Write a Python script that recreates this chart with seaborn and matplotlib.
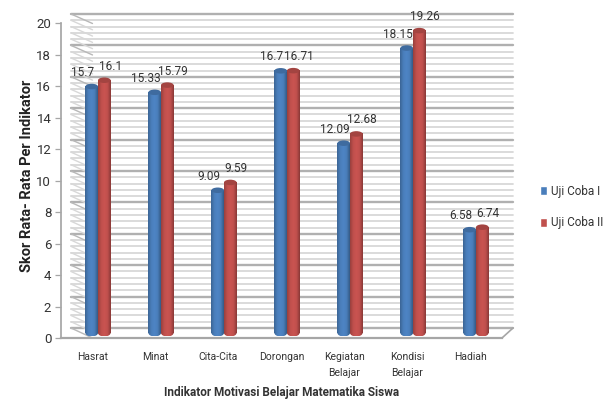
import numpy as np
import pandas as pd
import matplotlib
matplotlib.use('Agg')
import matplotlib.pyplot as plt
from matplotlib.colors import LinearSegmentedColormap
from matplotlib.patches import ConnectionPatch, Ellipse
import seaborn as sns

categories = ['Hasrat', 'Minat', 'Cita-Cita', 'Dorongan', 'Kegiatan\nBelajar', 'Kondisi\nBelajar', 'Hadiah']
uji_coba_1 = [15.7, 15.33, 9.09, 16.7, 12.09, 18.15, 6.58]
uji_coba_2 = [16.1, 15.79, 9.59, 16.71, 12.68, 19.26, 6.74]
series_names = ['Uji Coba I', 'Uji Coba II']
y_ticks = [0, 2, 4, 6, 8, 10, 12, 14, 16, 18, 20]
y_label = 'Skor Rata- Rata Per Indikator'
x_label = 'Indikator Motivasi Belajar Matematika Siswa'

sns.set_theme(style='white')
plt.rcParams['font.family'] = ['Roboto', 'DejaVu Sans']
W, H = 606, 399
GRAY = '#a6a6a6'
TEXT = '#333333'
colors = ['#4a7ebb', '#c0504d']


def box(left, right, top, bottom):
    return [left / W, 1 - bottom / H, (right - left) / W, (bottom - top) / H]


fig = plt.figure(figsize=(W / 100, H / 100), dpi=100, facecolor='white')
# pared belakang, sumbu depan, dan bidang tengah untuk batang
wall = fig.add_axes(box(71, 513, 14, 328), zorder=0)
front = fig.add_axes(box(61, 502, 23.5, 338), zorder=1)
ax = fig.add_axes(box(66.5, 507.5, 19, 333), zorder=2)

wall.set(xlim=(0, 1), ylim=(0, 20), xticks=[], yticks=[])
for s in wall.spines.values():
    s.set_visible(False)
levels = np.arange(0, 20.01, 0.4)
for v in levels:
    major = abs(v / 2 - round(v / 2)) < 1e-6
    wall.axhline(v, color='#b0b0b0' if major else '#d8d8d8', lw=1.7 if major else 1.3, clip_on=False)
    con = ConnectionPatch((0, v), (0, v), 'data', 'data', axesA=front, axesB=wall,
                          color='#b8b8b8' if major else '#d8d8d8', lw=1.0)
    fig.add_artist(con)
fig.add_artist(ConnectionPatch((1, 0), (1, 0), 'axes fraction', 'axes fraction',
                               axesA=front, axesB=wall, color=GRAY, lw=1.2))

front.patch.set_alpha(0)
front.set(xlim=(-0.5, 6.5), ylim=(0, 20))
front.set_yticks(y_ticks)
front.set_xticks(range(len(categories)))
front.set_xticklabels(categories, fontsize=7.5, color=TEXT, linespacing=1.75)
front.tick_params(axis='y', length=4, width=0.9, color=GRAY, labelsize=9.5, labelcolor=TEXT, pad=3, left=True)
front.tick_params(axis='x', length=0, pad=10)
for side in ['top', 'right']:
    front.spines[side].set_visible(False)
front.spines['left'].set_color(GRAY)
front.spines['bottom'].set_color(GRAY)
front.spines['bottom'].set_linewidth(1.6)
front.set_xlabel(x_label, fontsize=8.5, fontweight='bold', color=TEXT)
front.xaxis.set_label_coords(0.5, -0.152)
front.set_ylabel(y_label, fontsize=10.5, fontweight='bold', color='#222222')
front.yaxis.set_label_coords(-0.062, 0.515)

df = pd.DataFrame({
    'kategori': categories * 2,
    'skor': uji_coba_1 + uji_coba_2,
    'seri': [series_names[0]] * len(categories) + [series_names[1]] * len(categories),
})
sns.barplot(data=df, x='kategori', y='skor', hue='seri', palette=colors, width=0.4,
            gap=0, saturation=1, ax=ax)
ax.set(xlim=(-0.5, 6.5), ylim=(0, 20), xlabel='', ylabel='', xticks=[], yticks=[])
ax.patch.set_alpha(0)
for s in ax.spines.values():
    s.set_visible(False)

cap_h = 0.22
for idx, (container, col, dx) in enumerate(zip(ax.containers, colors, [-9, 6])):
    base = np.array(matplotlib.colors.to_rgb(col))
    cmap = LinearSegmentedColormap.from_list(
        'cyl', [base * 0.8, base * 1.0, np.minimum(base * 1.05, 1), base * 1.0, base * 0.72])
    grad = np.linspace(0, 1, 32)[None, :]
    for bar, val in zip(container.patches, container.datavalues):
        x0, w = bar.get_x(), bar.get_width()
        bar.set_visible(False)
        # badan silinder dan alas bawahnya
        body = ax.imshow(grad, cmap=cmap, aspect='auto', zorder=3 + idx, interpolation='bilinear',
                         extent=(x0, x0 + w, 0, val))
        foot = ax.imshow(grad, cmap=cmap, aspect='auto', zorder=3 + idx, interpolation='bilinear',
                         extent=(x0, x0 + w, -cap_h, 0))
        clip = Ellipse((x0 + w / 2, 0), w, cap_h * 2, transform=ax.transData)
        foot.set_clip_path(clip)
        foot.set_clip_box(fig.bbox)
        ax.add_patch(Ellipse((x0 + w / 2, val), w, cap_h * 1.6, facecolor=base * 0.85,
                             edgecolor='none', zorder=3.5 + idx, clip_on=False))
        ax.annotate(f'{val:g}', (x0 + w / 2, val), xytext=(dx, 14), textcoords='offset pixels',
                    ha='center', va='center', fontsize=8.5, color=TEXT, zorder=6,
                    annotation_clip=False)
ax.set(xlim=(-0.5, 6.5), ylim=(0, 20))

handles, labels = ax.get_legend_handles_labels()
ax.legend(handles, labels, loc='center left', bbox_to_anchor=(540 / W, 1 - 207 / H),
          bbox_transform=fig.transFigure, frameon=False, fontsize=8.5, labelcolor=TEXT,
          handlelength=0.6, handleheight=0.85, handletextpad=0.3, borderpad=0, borderaxespad=0,
          labelspacing=1.6)

fig.savefig('out.png', dpi=100)
